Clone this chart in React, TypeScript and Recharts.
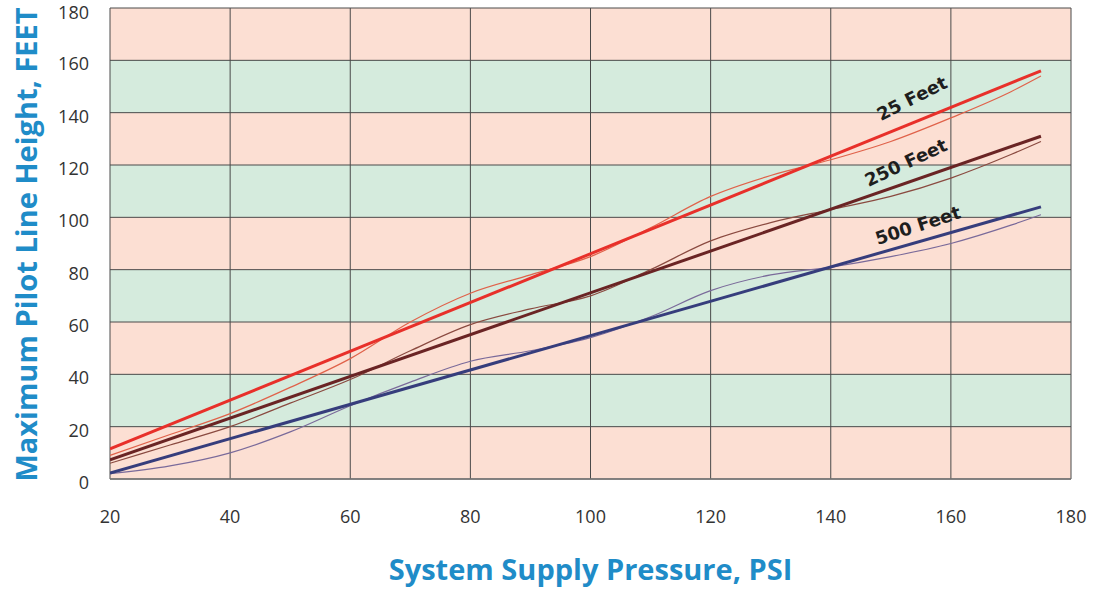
import React from "react";
import { LineChart, Line, XAxis, YAxis, CartesianGrid, ReferenceDot, Label } from "recharts";

const xTicks = [20, 40, 60, 80, 100, 120, 140, 160, 180];
const yTicks = [0, 20, 40, 60, 80, 100, 120, 140, 160, 180];

// Thick (design) lines: endpoints
const designPsi = [20, 175];
const design25 = [11.5, 156];
const design250 = [7.3, 131];
const design500 = [2.3, 104];

// Thin (measured) curves
const measPsi = [20, 30, 40, 50, 60, 70, 80, 90, 100, 110, 120, 130, 140, 150, 160, 170, 175];
const meas25 = [9, 17, 25, 35, 46, 60, 71, 78, 85, 96, 108, 116, 122, 129, 138, 148, 154];
const meas250 = [6, 13, 20, 29, 38, 49, 59, 65, 70, 80, 91, 98, 103, 108, 115, 124, 129];
const meas500 = [2, 5, 10, 18, 28, 37, 45, 49, 54, 62, 72, 78, 81, 85, 90, 97, 101];

const labelText = ["25 Feet", "250 Feet", "500 Feet"];
const labelX = [153.5, 152.5, 154.5];
const labelY = [145.5, 121, 97];
const labelAngle = [-27, -25, -18];

const toRows = (xs: number[], ys: number[]) => xs.map((x, i) => ({ x, y: ys[i] }));

const labelColor = "#1F8CC8";

const YTick = (props: any) => {
  const { x, y, payload } = props;
  return (
    <text x={x} y={y + 3} textAnchor="end" dominantBaseline="central" style={{ fill: "#333", fontSize: 18, fontFamily: "Open Sans" }}>
      {payload.value}
    </text>
  );
};

export default function App() {
  return (
    <div style={{ position: "absolute", left: 0, top: 0, background: "#fff" }}>
      <LineChart width={1093} height={589} margin={{ top: 8, right: 22, left: 0, bottom: 0 }}>
        <CartesianGrid
          stroke="#4a4a4a"
          strokeWidth={1}
          horizontalFill={["#FCDFD3", "#D5EBDD"]}
          fillOpacity={1}
        />
        <XAxis
          type="number"
          dataKey="x"
          domain={[20, 180]}
          ticks={xTicks}
          allowDataOverflow
          height={110}
          tickLine={false}
          axisLine={{ stroke: "#777", strokeWidth: 1.5 }}
          tickSize={6}
          tickMargin={25}
          tick={{ fill: "#333", fontSize: 18, fontFamily: "Open Sans" }}
        >
          <Label
            value="System Supply Pressure, PSI"
            position="insideBottom"
            offset={9}
            style={{ fill: labelColor, fontSize: 29, fontWeight: 700, fontFamily: "Open Sans" }}
          />
        </XAxis>
        <YAxis
          type="number"
          domain={[0, 180]}
          ticks={yTicks}
          width={110}
          tickLine={false}
          axisLine={false}
          tickSize={6}
          tickMargin={15}
          tick={<YTick />}
        >
          <Label
            value="Maximum Pilot Line Height, FEET"
            angle={-90}
            position="insideLeft"
            offset={0}
            content={(props: any) => {
              const vb = props.viewBox || {};
              const cx = 25;
              const cy = (vb.y || 8) + (vb.height || 471) / 2 + 1;
              return (
                <text
                  x={cx}
                  y={cy}
                  transform={`rotate(-90 ${cx} ${cy})`}
                  textAnchor="middle"
                  dominantBaseline="central"
                  style={{ fill: labelColor, fontSize: 29, fontWeight: 700, fontFamily: "Open Sans" }}
                >
                  Maximum Pilot Line Height, FEET
                </text>
              );
            }}
          />
        </YAxis>

        <Line data={toRows(measPsi, meas25)} dataKey="y" type="monotone" stroke="#E0624A" strokeWidth={1.2} dot={false} isAnimationActive={false} />
        <Line data={toRows(measPsi, meas250)} dataKey="y" type="monotone" stroke="#8A4A40" strokeWidth={1.2} dot={false} isAnimationActive={false} />
        <Line data={toRows(measPsi, meas500)} dataKey="y" type="monotone" stroke="#7A6A9A" strokeWidth={1.2} dot={false} isAnimationActive={false} />

        <Line data={toRows(designPsi, design25)} dataKey="y" type="linear" stroke="#E8302A" strokeWidth={3} dot={false} isAnimationActive={false} />
        <Line data={toRows(designPsi, design250)} dataKey="y" type="linear" stroke="#6A2424" strokeWidth={3} dot={false} isAnimationActive={false} />
        <Line data={toRows(designPsi, design500)} dataKey="y" type="linear" stroke="#363D7C" strokeWidth={3} dot={false} isAnimationActive={false} />

        {labelText.map((t, i) => (
          <ReferenceDot
            key={t}
            x={labelX[i]}
            y={labelY[i]}
            r={0}
            ifOverflow="visible"
            shape={(p: any) => (
              <text
                x={p.cx}
                y={p.cy}
                transform={`rotate(${labelAngle[i]} ${p.cx} ${p.cy})`}
                textAnchor="middle"
                dominantBaseline="central"
                style={{ fill: "#1E1E1E", fontSize: 18, fontWeight: 700, fontFamily: "DejaVu Sans" }}
              >
                {t}
              </text>
            )}
          />
        ))}
      </LineChart>
    </div>
  );
}
